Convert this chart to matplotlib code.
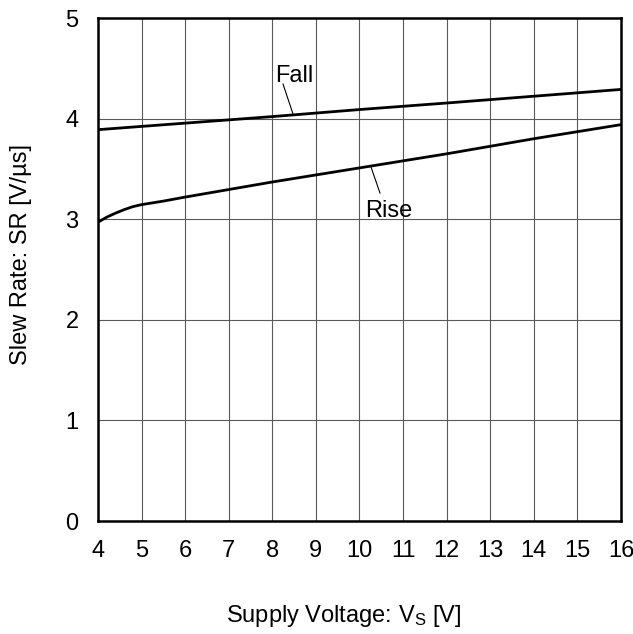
import matplotlib
matplotlib.use("Agg")
import matplotlib.pyplot as plt
import numpy as np

plt.rcParams['font.family'] = ['Liberation Sans', 'DejaVu Sans']
plt.rcParams['mathtext.default'] = 'regular'

vs_rise = [4.0, 4.2, 4.4, 4.6, 4.8, 5.0, 5.5, 6.0, 8.0, 10.0, 12.0, 14.0, 16.0]
sr_rise = [2.97, 3.02, 3.06, 3.095, 3.125, 3.145, 3.18, 3.22, 3.37, 3.51, 3.65, 3.80, 3.94]

vs_fall = [4.0, 8.0, 10.0, 12.0, 16.0]
sr_fall = [3.89, 4.02, 4.09, 4.155, 4.29]

x_ticks = list(range(4, 17))
y_ticks = [0, 1, 2, 3, 4, 5]

FS = 17

fig = plt.figure(figsize=(6.33, 6.34), dpi=100)
ax = fig.add_axes([0.1548, 0.1782, 0.8262, 0.7934])

ax.plot(vs_fall, sr_fall, color='black', lw=2.0, zorder=3)
ax.plot(vs_rise, sr_rise, color='black', lw=2.0, zorder=3)

# etykiety z kreskami
ax.text(8.06, 4.364, 'Fall', fontsize=FS, ha='left', va='baseline')
ax.plot([8.245, 8.475], [4.344, 4.046], color='black', lw=0.8)
ax.text(10.13, 3.025, 'Rise', fontsize=FS, ha='left', va='baseline')
ax.plot([10.264, 10.471], [3.519, 3.260], color='black', lw=0.8)

ax.set_xlim(4, 16)
ax.set_ylim(0, 5)
ax.set_xticks(x_ticks)
ax.set_yticks(y_ticks)
ax.tick_params(length=0, labelsize=FS, pad=14)
ax.grid(True, color='0.35', lw=0.8)
ax.set_axisbelow(True)
for s in ax.spines.values():
    s.set_linewidth(1.8)

ax.set_xlabel(r'Supply Voltage: V$_S$ [V]', fontsize=FS)
ax.xaxis.set_label_coords(0.469, -0.163)
ax.set_ylabel('Slew Rate: SR [V/µs]', fontsize=FS)
ax.yaxis.set_label_coords(-0.127, 0.529)

fig.savefig('out.png', dpi=100)
